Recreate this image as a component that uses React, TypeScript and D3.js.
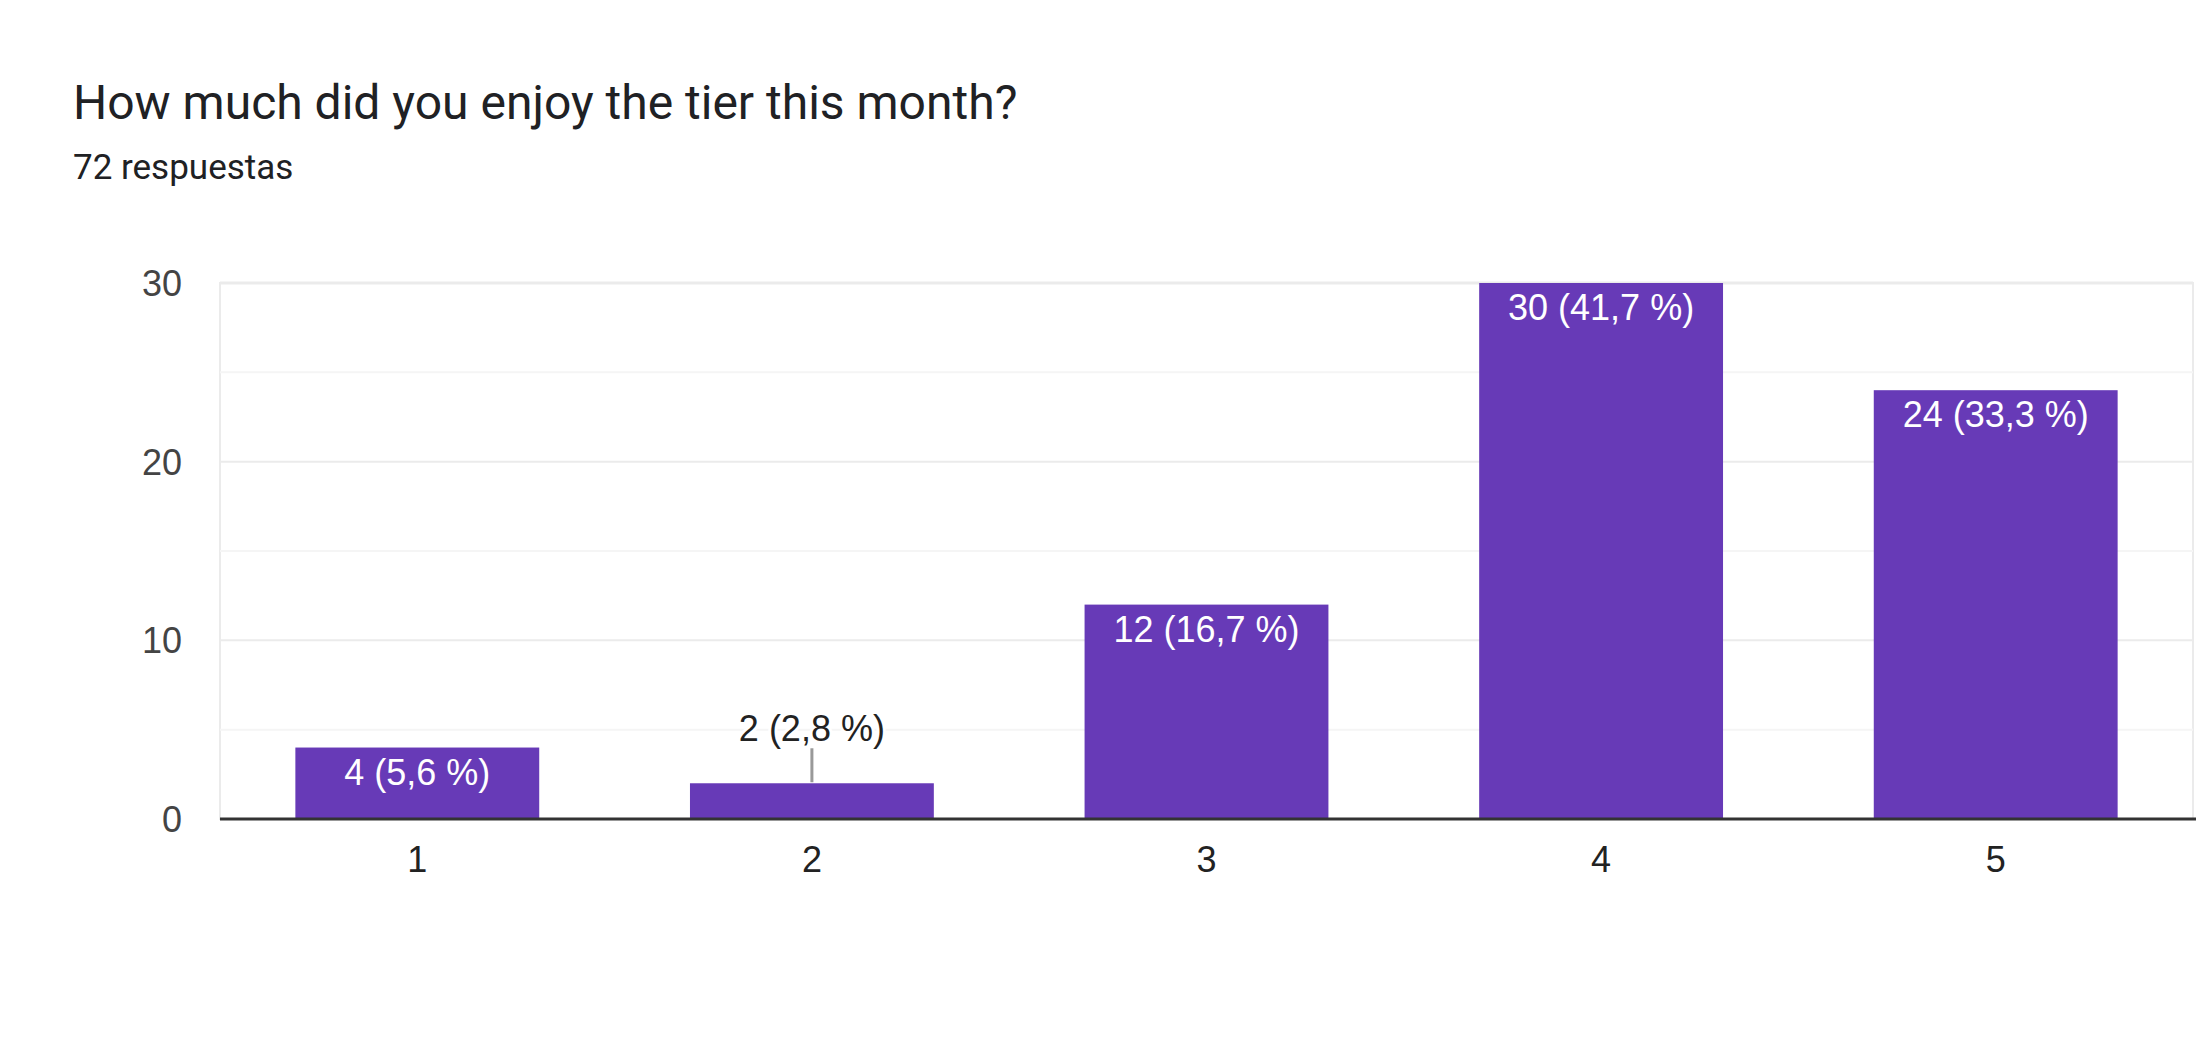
import React, { useEffect } from "react";
import * as d3 from "d3";

const categories = ["1", "2", "3", "4", "5"];
const counts = [4, 2, 12, 30, 24];
const totalResponses = 72;
const majorTicks = [0, 10, 20, 30];
const minorTicks = [5, 15, 25];
const titleText = "How much did you enjoy the tier this month?";
const subtitleText = "72 respuestas";

const W = 2196;
const H = 1044;
const plot = { left: 220, right: 2193, top: 283, bottom: 819 };
const barColor = "#673ab7";
const chartFont = "'Liberation Sans', Arial, sans-serif";
const titleFont = "Roboto, 'Noto Sans', sans-serif";
const chartFontSize = 36;

export default function App() {
  useEffect(() => {
    document.body.style.margin = "0";
  }, []);

  const x = d3
    .scaleBand<string>()
    .domain(categories)
    .range([plot.left, plot.right])
    .paddingInner(0.382)
    .paddingOuter(0.191);
  const y = d3.scaleLinear().domain([0, 30]).range([plot.bottom, plot.top]);

  const pctLabel = (v: number) =>
    `${v} (${((v / totalResponses) * 100).toFixed(1).replace(".", ",")} %)`;

  return (
    <svg width={W} height={H} style={{ display: "block", background: "#fff" }}>
      <text x={73} y={119} fontFamily={titleFont} fontSize={48} fill="#202124">
        {titleText}
      </text>
      <text x={73} y={179} fontFamily={titleFont} fontSize={35} fill="#202124">
        {subtitleText}
      </text>

      <rect
        x={plot.left}
        y={plot.top}
        width={plot.right - plot.left}
        height={plot.bottom - plot.top}
        fill="none"
        stroke="#ebebeb"
        strokeWidth={2}
      />
      {minorTicks.map((t) => (
        <line key={"m" + t} x1={plot.left} x2={plot.right} y1={y(t)} y2={y(t)} stroke="#f5f5f5" strokeWidth={2} />
      ))}
      {majorTicks.map((t) => (
        <line key={"g" + t} x1={plot.left} x2={plot.right} y1={y(t)} y2={y(t)} stroke="#ebebeb" strokeWidth={t === 30 ? 3 : 2} />
      ))}
      {majorTicks.map((t) => (
        <text
          key={"yl" + t}
          x={182}
          y={y(t)}
          dy="0.36em"
          textAnchor="end"
          fontFamily={chartFont}
          fontSize={chartFontSize}
          fill="#444"
        >
          {t}
        </text>
      ))}

      {categories.map((c, i) => {
        const v = counts[i];
        const bx = x(c)!;
        const bw = x.bandwidth();
        const by = y(v);
        const bh = plot.bottom - by;
        const cx = bx + bw / 2;
        const inside = bh > 50;
        return (
          <g key={c}>
            <rect x={bx} y={by} width={bw} height={bh} fill={barColor} />
            {inside ? (
              <text x={cx} y={by + 37} textAnchor="middle" fontFamily={chartFont} fontSize={chartFontSize} fill="#fff">
                {pctLabel(v)}
              </text>
            ) : (
              <g>
                <line x1={cx} x2={cx} y1={by - 1} y2={by - 35} stroke="#999" strokeWidth={3} />
                <text
                  x={cx}
                  y={by - 42}
                  textAnchor="middle"
                  fontFamily={chartFont}
                  fontSize={chartFontSize}
                  fill="#222"
                  stroke="#fff"
                  strokeWidth={6}
                  paintOrder="stroke"
                  strokeLinejoin="round"
                >
                  {pctLabel(v)}
                </text>
              </g>
            )}
            <text x={cx} y={872} textAnchor="middle" fontFamily={chartFont} fontSize={chartFontSize} fill="#222">
              {c}
            </text>
          </g>
        );
      })}

      <line x1={plot.left} x2={plot.right + 3} y1={plot.bottom} y2={plot.bottom} stroke="#333" strokeWidth={3} />
    </svg>
  );
}
